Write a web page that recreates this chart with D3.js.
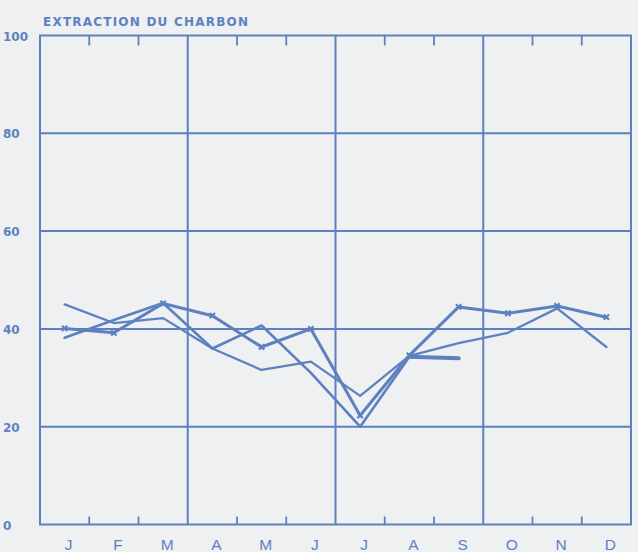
<!DOCTYPE html>
<html><head><meta charset="utf-8">
<script src="https://cdn.jsdelivr.net/npm/d3@7"></script>
<style>body{margin:0;background:#eef0f1} svg{display:block}</style>
</head><body><svg id="c" width="638" height="552"></svg>
<script>
const title = "EXTRACTION DU CHARBON";
const months = ["J","F","M","A","M","J","J","A","S","O","N","D"];
const yTicks = [0,20,40,60,80,100];
const seriesA = [40.1, 39.2, 45.2, 42.7, 36.3, 40.0, 22.3, 34.6, 44.5, 43.2, 44.7, 42.4];
const seriesB = [45.0, 41.2, 42.2, 36.0, 31.6, 33.3, 26.3, 34.5, 37.1, 39.2, 44.2, 36.3];
const seriesC = [38.2, 41.8, 45.3, 36.0, 40.7, 31.0, 20.0, 34.3, 34.0, null, null, null];

const W = 638, H = 552, L = 40, R = 631, T = 35.5, B = 524.5;
const col = "#5d81c0";
const svg = d3.select("#c");
svg.append("rect").attr("width", W).attr("height", H).attr("fill", "#eef0f1");

const x = d3.scaleBand().domain(d3.range(12)).range([L, R]);
const y = d3.scaleLinear().domain([0, 100]).range([B, T]);
const xm = i => x(i) + x.bandwidth() / 2;
const xb = i => i < 12 ? x(i) : R;

// horizontal grid
svg.append("g").selectAll("line").data(yTicks).join("line")
  .attr("x1", L - 1).attr("x2", R + 1)
  .attr("y1", d => y(d)).attr("y2", d => y(d))
  .attr("stroke", col).attr("stroke-width", 2);
// vertical quarter lines
svg.append("g").selectAll("line").data([0, 3, 6, 9, 12]).join("line")
  .attr("x1", d => xb(d)).attr("x2", d => xb(d))
  .attr("y1", T).attr("y2", B)
  .attr("stroke", col).attr("stroke-width", 2);
// month ticks
const tickIdx = d3.range(1, 12).filter(i => i % 3 !== 0);
svg.append("g").selectAll("line").data(tickIdx).join("line")
  .attr("x1", d => xb(d)).attr("x2", d => xb(d))
  .attr("y1", T).attr("y2", T + 10)
  .attr("stroke", col).attr("stroke-width", 1.8);
svg.append("g").selectAll("line").data(tickIdx).join("line")
  .attr("x1", d => xb(d)).attr("x2", d => xb(d))
  .attr("y1", B).attr("y2", B - 8)
  .attr("stroke", col).attr("stroke-width", 1.8);

// title
svg.append("text").attr("x", 43).attr("y", 26)
  .attr("textLength", 205).attr("lengthAdjust", "spacing")
  .attr("font-family", "DejaVu Sans").attr("font-weight", "bold").attr("font-size", 12)
  .attr("fill", col).text(title);

// y labels
svg.append("g").selectAll("text").data(yTicks).join("text")
  .attr("x", 3).attr("y", d => y(d) + 5)
  .attr("font-family", "DejaVu Sans").attr("font-weight", "bold").attr("font-size", 12)
  .attr("fill", col).text(d => d);

// x labels
svg.append("g").selectAll("text").data(months).join("text")
  .attr("x", (d, i) => xm(i) + 4).attr("y", 550)
  .attr("text-anchor", "middle")
  .attr("font-family", "Liberation Sans").attr("font-size", 15.5)
  .attr("fill", col).text(d => d);

// lines
const line = d3.line().defined(d => d != null).x((d, i) => xm(i)).y(d => y(d));
function draw(data, w) {
  svg.append("path").datum(data).attr("d", line)
    .attr("fill", "none").attr("stroke", col).attr("stroke-width", w)
    .attr("stroke-linejoin", "round").attr("stroke-linecap", "round");
}
draw(seriesB, 2.3);
draw(seriesC, 2.6);
draw(seriesA, 3);
// thick end segment of C
const cLast = seriesC.map((d, i) => (i >= 7 ? d : null));
svg.append("path").datum(cLast).attr("d", line)
  .attr("fill", "none").attr("stroke", col).attr("stroke-width", 4.2)
  .attr("stroke-linecap", "round");

// markers on A
svg.append("g").selectAll("path").data(seriesA).join("path")
  .attr("transform", (d, i) => `translate(${xm(i)},${y(d)})`)
  .attr("d", d3.symbol().type(d3.symbolX).size(20))
  .attr("fill", "none").attr("stroke", col).attr("stroke-width", 2.2);
</script></body></html>
